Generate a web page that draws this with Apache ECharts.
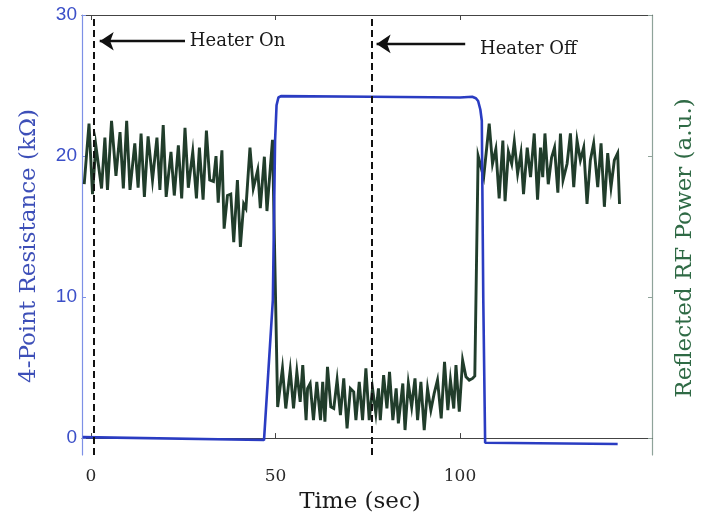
<!DOCTYPE html>
<html>
<head>
<meta charset="utf-8">
<script src="https://cdn.jsdelivr.net/npm/echarts@6/dist/echarts.min.js"></script>
<style>
  html, body { margin: 0; padding: 0; background: #fff; }
  #chart { width: 704px; height: 523px; }
</style>
</head>
<body>
<div id="chart"></div>
<script>
// Axis ticks
const timeTicks = [0, 50, 100];
const valueTicks = [0, 10, 20, 30];

// 4-point resistance (kΩ) versus time (s)
const resistanceTime = [-2.2, 46.9, 49.3, 49.9, 50.3, 50.8, 51.5, 76.0, 100.0, 103.3, 104.3, 104.9, 105.5, 105.9, 106.3, 106.8, 142.7];
const resistanceKOhm = [0.07, -0.14, 9.8, 21.1, 23.6, 24.15, 24.25, 24.2, 24.15, 24.2, 24.1, 23.9, 23.3, 22.5, 9.8, -0.33, -0.42];

// Reflected RF power (a.u.) versus time (s)
const powerTime = [
  -1.8, -0.5, 0.45, 1.35, 2.9, 3.8, 4.5, 5.6, 6.8, 7.9, 8.8, 9.7, 10.6, 11.9, 12.8, 13.6, 14.5, 15.5, 16.7, 17.9,
  18.7, 19.6, 20.4, 21.7, 22.6, 23.7, 24.6, 25.5, 26.4, 27.6, 28.6, 29.4, 30.4, 31.3, 32.2, 33.2, 33.9, 34.5, 35.5, 36.1,
  37.0, 37.9, 38.7, 39.7, 40.5, 41.4, 42.0, 43.1, 44.0, 45.2, 45.9, 47.0, 47.7, 49.2,
  50.6, 51.9, 52.8, 54.0, 54.9, 55.8, 56.7, 57.4, 58.3, 58.7, 59.4, 60.3, 61.2, 62.2, 62.8, 63.4, 64.1, 65.0, 65.8, 66.7,
  67.6, 68.5, 69.4, 70.3, 71.2, 71.8, 72.7, 73.6, 74.5, 75.4, 76.3, 77.2, 77.9, 78.4, 79.3, 80.2, 80.9, 81.8, 82.7, 83.3,
  84.5, 85.1, 86.0, 86.9, 87.8, 88.5, 89.4, 90.3, 91.2, 92.1, 93.0, 93.9, 94.9, 95.8, 96.7, 97.4, 98.3, 98.9, 99.8, 100.7,
  101.6, 102.5, 103.4, 104.0,
  104.9, 106.4, 107.9, 108.8, 109.7, 110.6, 111.6, 112.2, 113.1, 114.0, 114.7, 115.6, 116.5, 117.2, 118.2, 119.1, 120.1,
  121.0, 121.8, 122.4, 123.0, 123.9, 124.8, 125.6, 126.5, 127.2, 127.9, 129.0, 129.9, 130.8, 131.7, 132.6, 133.5, 134.4,
  135.3, 136.2, 137.3, 138.2, 139.1, 140.0, 140.9, 141.8, 142.7, 143.2
];
const powerValue = [
  18.0, 22.3, 17.3, 20.75, 17.7, 21.3, 17.6, 22.5, 18.6, 21.7, 17.7, 22.5, 17.6, 20.9, 17.75, 21.6, 17.1, 21.4, 18.3, 21.3,
  17.6, 22.2, 17.1, 20.3, 17.2, 20.75, 17.0, 22.0, 17.75, 20.3, 17.0, 20.6, 16.9, 21.8, 18.3, 18.2, 20.0, 16.7, 20.4, 14.85,
  17.2, 17.3, 13.9, 18.3, 13.55, 16.6, 16.3, 20.6, 17.7, 19.0, 16.3, 19.95, 16.1, 21.15,
  2.2, 4.94, 2.1, 4.82, 2.1, 4.7, 2.57, 5.17, 1.27, 3.52, 3.87, 1.27, 3.99, 1.27, 3.99, 1.16, 5.05, 2.22, 2.1, 4.11,
  1.63, 4.23, 0.68, 3.52, 3.28, 1.27, 3.99, 1.27, 4.94, 1.27, 3.52, 1.75, 3.52, 1.27, 4.46, 2.1, 4.7, 1.27, 3.52, 1.04,
  3.87, 0.57, 3.87, 2.22, 4.23, 1.27, 3.99, 0.57, 3.52, 1.98, 3.17, 4.11, 1.39, 5.4, 1.98, 4.11, 2.1, 5.17, 1.87, 5.52,
  4.35, 4.11, 4.23, 4.4,
  20.0, 18.5, 22.3, 19.45, 20.5, 17.0, 21.1, 16.8, 20.3, 19.45, 21.0, 18.75, 20.2, 17.3, 20.6, 18.5, 21.6,
  16.9, 20.6, 18.5, 21.6, 18.0, 19.9, 20.6, 17.4, 21.6, 18.3, 19.45, 21.6, 17.8, 21.1, 19.7, 20.6, 16.6,
  19.7, 20.9, 17.8, 20.9, 16.4, 20.2, 17.8, 19.7, 20.2, 16.6
];

// Heater events (s) and annotation arrows
const heaterOnTime = 0.7;
const heaterOffTime = 76.2;
const annotationText = ['Heater On', 'Heater Off'];
const arrowTail = [[25.5, 28.14], [101.4, 27.95]];
const arrowTip = [[2.4, 28.14], [77.4, 27.95]];
const textAnchor = [[26.8, 28.1], [105.4, 27.55]];

const zip = (xs, ys) => xs.map((x, i) => [x, ys[i]]);

const serif = 'DejaVu Serif';
const X_MIN = -2.4, X_MAX = 152;
const Y_MIN = -1.2, Y_MAX = 30;

const chart = echarts.init(document.getElementById('chart'), null, { renderer: 'canvas' });

const option = {
  animation: false,
  backgroundColor: '#ffffff',
  grid: { left: 82, right: 52, top: 15, bottom: 68, containLabel: false },
  xAxis: [
    {
      type: 'value', position: 'bottom', min: X_MIN, max: X_MAX,
      axisLine: { show: true, lineStyle: { color: '#444', width: 1.2 } },
      axisTick: { show: true, inside: true, length: 5, customValues: timeTicks, lineStyle: { color: '#444' } },
      axisLabel: { show: true, customValues: timeTicks, margin: 13, color: '#2a2a2a', fontFamily: serif, fontSize: 17 },
      splitLine: { show: false }
    },
    {
      type: 'value', position: 'top', min: X_MIN, max: X_MAX,
      axisLine: { show: true, onZero: false, lineStyle: { color: '#444', width: 1.2 } },
      axisTick: { show: true, inside: true, length: 5, customValues: timeTicks, lineStyle: { color: '#444' } },
      axisLabel: { show: false },
      splitLine: { show: false }
    }
  ],
  yAxis: [
    {
      type: 'value', position: 'left', min: Y_MIN, max: Y_MAX,
      axisLine: { show: true, onZero: false, lineStyle: { color: '#7d90e6', width: 1.2 } },
      axisTick: { show: true, inside: true, length: 4, customValues: valueTicks, lineStyle: { color: '#7d90e6' } },
      axisLabel: { show: true, customValues: valueTicks, margin: 5, color: '#3b4fc8', fontFamily: 'Liberation Sans', fontSize: 19 },
      splitLine: { show: false }
    },
    {
      type: 'value', position: 'right', min: Y_MIN, max: Y_MAX,
      axisLine: { show: true, onZero: false, lineStyle: { color: '#8fa39a', width: 1.2 } },
      axisTick: { show: true, inside: true, length: 4, customValues: valueTicks, lineStyle: { color: '#8fa39a' } },
      axisLabel: { show: false },
      splitLine: { show: false }
    }
  ],
  series: [
    {
      name: 'Reflected RF Power',
      type: 'line',
      xAxisIndex: 0, yAxisIndex: 1,
      data: zip(powerTime, powerValue),
      showSymbol: false,
      lineStyle: { color: '#213d2b', width: 2.9, join: 'miter' },
      z: 2
    },
    {
      name: '4-Point Resistance',
      type: 'line',
      xAxisIndex: 0, yAxisIndex: 0,
      data: zip(resistanceTime, resistanceKOhm),
      showSymbol: false,
      lineStyle: { color: '#2a3cc2', width: 2.6 },
      z: 3,
      markLine: {
        silent: true,
        symbol: ['none', 'none'],
        label: { show: false },
        lineStyle: { color: '#111', width: 2, type: [7, 4] },
        data: [
          { xAxis: heaterOnTime },
          { xAxis: heaterOffTime }
        ]
      }
    },
    {
      name: 'arrows',
      type: 'line',
      xAxisIndex: 0, yAxisIndex: 0,
      data: [],
      itemStyle: { color: '#111' },
      markLine: {
        silent: true,
        symbol: 'arrow',
        symbolSize: 14,
        label: { show: false },
        itemStyle: { color: '#111' },
        lineStyle: { color: '#111', width: 2.4, type: 'solid' },
        data: arrowTail.map((tail, i) => [
          { coord: tail, symbol: 'none' },
          { coord: arrowTip[i], symbol: 'arrow', symbolSize: 14 }
        ])
      }
    }
  ]
};

chart.setOption(option);

// Text placed through the chart's own coordinate conversion
const toPx = (pt) => chart.convertToPixel({ xAxisIndex: 0, yAxisIndex: 0 }, pt);
const annotations = annotationText.map((txt, i) => {
  const p = toPx(textAnchor[i]);
  return {
    type: 'text', x: p[0], y: p[1], silent: true,
    style: { text: txt, fill: '#1a1a1a', font: '18px "DejaVu Serif"', align: 'left', verticalAlign: 'middle' }
  };
});

chart.setOption({
  graphic: [
    ...annotations,
    {
      type: 'text', x: 360, y: 502, silent: true,
      style: { text: 'Time (sec)', fill: '#1a1a1a', font: '23px "DejaVu Serif"', align: 'center', verticalAlign: 'middle' }
    },
    {
      type: 'text', x: 29, y: 246, rotation: Math.PI / 2, silent: true,
      style: { text: '4-Point Resistance (kΩ)', fill: '#3d4fb8', font: '23px "DejaVu Serif"', align: 'center', verticalAlign: 'middle' }
    },
    {
      type: 'text', x: 685, y: 248, rotation: Math.PI / 2, silent: true,
      style: { text: 'Reflected RF Power (a.u.)', fill: '#2f6a45', font: '23px "DejaVu Serif"', align: 'center', verticalAlign: 'middle' }
    }
  ]
});
</script>
</body>
</html>
